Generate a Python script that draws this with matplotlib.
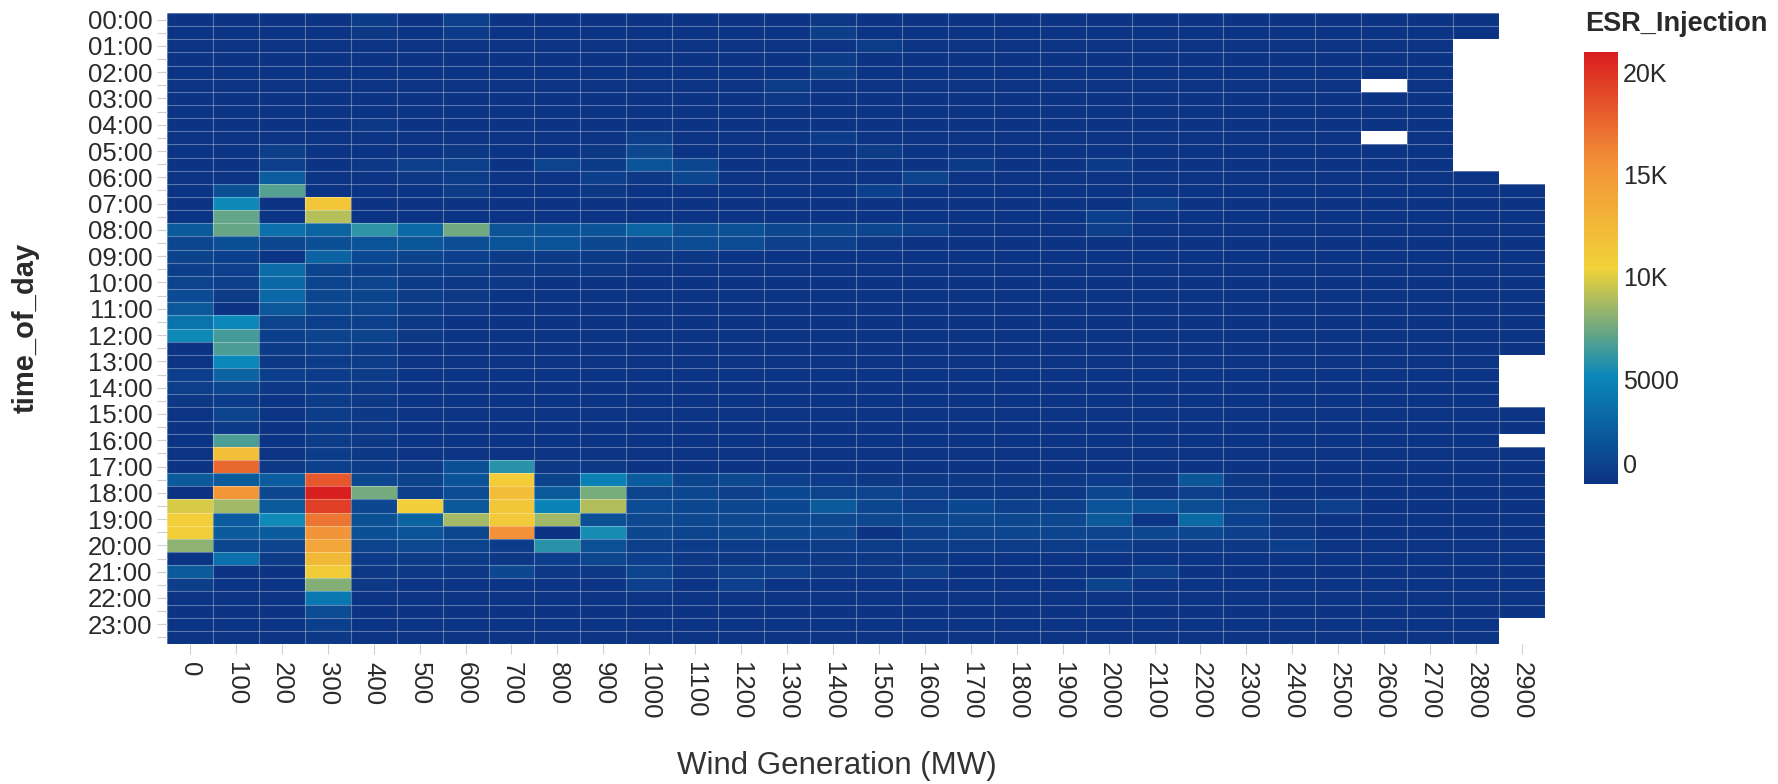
import numpy as np
import matplotlib
matplotlib.use("Agg")
import matplotlib.pyplot as plt
from matplotlib import transforms
from matplotlib.colors import LinearSegmentedColormap, Normalize

plt.rcParams["font.family"] = ["Liberation Sans", "DejaVu Sans"]

nan = np.nan

wind_mw = list(range(0, 3000, 100))
time_of_day = [f"{h:02d}:{m:02d}" for h in range(24) for m in (0, 30)]

# mean ESR injection per half-hour (rows) and wind bin (columns), in thousands
# nan = no samples in that bin
esr_k = [
    [0.1, 0.1, 0.15, 0.15, 0.5, 0.15, 0.8, 0.15, 0.15, 0.15, 0.15, 0.15, 0.15, 0.15, 0.4, 0.15, 0.15, 0.15, 0.15, 0.15, 0.15, 0.15, 0.15, 0.15, 0.15, 0.15, 0.15, 0.15, 0.15, nan],
    [0.1, 0.1, 0.1, 0.15, 0.4, 0.15, 0.6, 0.15, 0.15, 0.15, 0.15, 0.15, 0.15, 0.15, 0.7, 0.15, 0.15, 0.15, 0.15, 0.15, 0.15, 0.15, 0.15, 0.15, 0.15, 0.15, 0.15, 0.15, 0.15, nan],
    [0.1, 0.1, 0.1, 0.15, 0.15, 0.15, 0.15, 0.15, 0.15, 0.15, 0.15, 0.15, 0.15, 0.15, 0.15, 0.5, 0.15, 0.15, 0.15, 0.15, 0.15, 0.15, 0.15, 0.15, 0.15, 0.15, 0.15, 0.15, nan, nan],
    [0.1, 0.1, 0.1, 0.15, 0.15, 0.15, 0.15, 0.15, 0.15, 0.15, 0.15, 0.15, 0.15, 0.15, 0.5, 0.15, 0.15, 0.15, 0.15, 0.15, 0.15, 0.15, 0.15, 0.15, 0.15, 0.15, 0.15, 0.15, nan, nan],
    [0.1, 0.1, 0.1, 0.15, 0.15, 0.15, 0.15, 0.15, 0.15, 0.15, 0.15, 0.15, 0.15, 0.15, 0.7, 0.15, 0.15, 0.15, 0.15, 0.15, 0.15, 0.15, 0.15, 0.15, 0.15, 0.15, 0.15, 0.15, nan, nan],
    [0.1, 0.1, 0.1, 0.15, 0.15, 0.15, 0.15, 0.15, 0.15, 0.15, 0.15, 0.15, 0.15, 0.5, 0.15, 0.15, 0.15, 0.15, 0.15, 0.15, 0.15, 0.15, 0.15, 0.15, 0.15, 0.15, nan, 0.15, nan, nan],
    [0.1, 0.1, 0.1, 0.15, 0.15, 0.15, 0.15, 0.15, 0.15, 0.15, 0.15, 0.15, 0.15, 0.4, 0.15, 0.15, 0.15, 0.15, 0.15, 0.15, 0.15, 0.15, 0.15, 0.15, 0.15, 0.15, 0.15, 0.15, nan, nan],
    [0.1, 0.1, 0.1, 0.15, 0.15, 0.15, 0.15, 0.15, 0.15, 0.15, 0.15, 0.15, 0.15, 0.15, 0.15, 0.15, 0.15, 0.15, 0.15, 0.15, 0.15, 0.15, 0.15, 0.15, 0.15, 0.15, 0.15, 0.15, nan, nan],
    [0.1, 0.1, 0.1, 0.15, 0.4, 0.15, 0.15, 0.15, 0.15, 0.15, 0.15, 0.15, 0.15, 0.15, 0.15, 0.15, 0.15, 0.15, 0.15, 0.15, 0.15, 0.15, 0.15, 0.15, 0.15, 0.15, 0.15, 0.15, nan, nan],
    [0.1, 0.1, 0.15, 0.15, 0.15, 0.15, 0.15, 0.15, 0.15, 0.15, 0.7, 0.15, 0.15, 0.15, 0.6, 0.15, 0.15, 0.15, 0.15, 0.15, 0.15, 0.15, 0.15, 0.15, 0.15, 0.15, nan, 0.15, nan, nan],
    [0.1, 0.1, 0.7, 0.15, 0.15, 0.15, 0.4, 0.15, 0.15, 0.4, 1.3, 0.15, 0.15, 0.15, 0.15, 0.5, 0.15, 0.15, 0.15, 0.15, 0.15, 0.15, 0.15, 0.15, 0.15, 0.15, 0.15, 0.15, nan, nan],
    [0.1, 0.1, 0.9, 0.15, 0.4, 0.9, 0.8, 0.15, 1.0, 0.5, 2.0, 1.2, 0.15, 0.15, 0.15, 0.15, 0.15, 0.5, 0.15, 0.15, 0.6, 0.15, 0.15, 0.15, 0.15, 0.15, 0.15, 0.15, nan, nan],
    [0.1, 0.1, 2.6, 0.15, 0.15, 0.4, 0.5, 0.15, 0.15, 0.8, 0.4, 1.2, 0.15, 0.15, 0.15, 0.15, 1.0, 0.15, 0.15, 0.15, 0.15, 0.15, 0.15, 0.15, 0.15, 0.15, 0.15, 0.15, 0.15, nan],
    [0.1, 1.8, 7.0, 0.15, 0.15, 0.15, 0.5, 0.15, 0.15, 0.4, 0.15, 0.15, 0.15, 0.15, 0.15, 0.9, 0.15, 0.15, 0.15, 0.15, 0.15, 0.15, 0.15, 0.15, 0.15, 0.15, 0.15, 0.15, 0.15, 0.15],
    [0.1, 5.4, 0.1, 11.6, 0.15, 0.15, 0.15, 0.15, 0.15, 0.15, 0.15, 0.15, 0.15, 0.15, 0.15, 0.15, 0.15, 0.15, 0.15, 0.15, 0.15, 0.8, 0.15, 0.15, 0.15, 0.15, 0.15, 0.15, 0.15, 0.15],
    [0.1, 7.3, 0.1, 9.2, 0.15, 0.15, 0.15, 0.15, 0.15, 0.15, 0.15, 0.15, 0.15, 0.15, 0.15, 0.15, 0.15, 0.15, 0.15, 0.15, 0.9, 0.15, 0.15, 0.15, 0.15, 0.15, 0.15, 0.15, 0.15, 0.15],
    [2.4, 7.4, 3.8, 3.0, 6.1, 3.3, 7.6, 1.9, 2.0, 2.0, 3.0, 1.8, 1.8, 1.2, 1.2, 1.2, 0.9, 0.15, 0.15, 0.15, 0.7, 0.15, 0.15, 0.15, 0.15, 0.15, 0.15, 0.15, 0.15, 0.15],
    [1.2, 1.8, 1.2, 1.8, 2.0, 2.2, 1.7, 2.0, 2.0, 1.3, 1.3, 1.5, 1.5, 0.9, 0.9, 0.4, 0.15, 0.15, 0.15, 0.15, 0.15, 0.15, 0.15, 0.15, 0.15, 0.15, 0.15, 0.15, 0.15, 0.15],
    [1.0, 0.9, 0.1, 3.0, 1.4, 1.0, 0.8, 0.5, 0.5, 0.5, 0.4, 0.4, 0.15, 0.15, 0.15, 0.15, 0.15, 0.15, 0.15, 0.15, 0.15, 0.15, 0.15, 0.15, 0.15, 0.15, 0.15, 0.15, 0.15, 0.15],
    [0.8, 0.9, 3.5, 1.0, 0.8, 0.5, 0.5, 0.4, 0.4, 0.4, 0.15, 0.15, 0.15, 0.15, 0.15, 0.15, 0.15, 0.15, 0.15, 0.15, 0.15, 0.15, 0.15, 0.15, 0.15, 0.15, 0.15, 0.15, 0.15, 0.15],
    [1.0, 0.7, 3.3, 1.0, 1.1, 0.5, 0.4, 0.4, 0.15, 0.15, 0.15, 0.15, 0.15, 0.15, 0.15, 0.15, 0.15, 0.15, 0.15, 0.15, 0.15, 0.15, 0.15, 0.15, 0.15, 0.15, 0.15, 0.15, 0.15, 0.15],
    [1.5, 0.5, 3.3, 1.2, 1.0, 0.5, 0.4, 0.15, 0.15, 0.15, 0.15, 0.15, 0.15, 0.15, 0.15, 0.15, 0.15, 0.15, 0.15, 0.15, 0.15, 0.15, 0.15, 0.15, 0.15, 0.15, 0.15, 0.15, 0.15, 0.15],
    [2.3, 0.1, 2.3, 1.2, 1.0, 0.5, 0.4, 0.15, 0.15, 0.15, 0.15, 0.15, 0.15, 0.15, 0.15, 0.15, 0.15, 0.15, 0.15, 0.15, 0.15, 0.15, 0.15, 0.15, 0.15, 0.15, 0.15, 0.15, 0.15, 0.15],
    [4.0, 5.3, 1.0, 0.8, 0.8, 0.4, 0.15, 0.15, 0.15, 0.15, 0.15, 0.15, 0.15, 0.15, 0.15, 0.15, 0.15, 0.15, 0.15, 0.15, 0.15, 0.15, 0.15, 0.15, 0.15, 0.15, 0.15, 0.15, 0.15, 0.15],
    [5.4, 6.6, 0.8, 1.0, 1.0, 0.4, 0.15, 0.15, 0.15, 0.15, 0.15, 0.15, 0.15, 0.15, 0.15, 0.15, 0.15, 0.15, 0.15, 0.15, 0.15, 0.15, 0.15, 0.15, 0.15, 0.15, 0.15, 0.15, 0.15, 0.15],
    [0.1, 6.8, 0.5, 0.9, 0.6, 0.15, 0.15, 0.15, 0.15, 0.15, 0.15, 0.15, 0.15, 0.15, 0.15, 0.15, 0.15, 0.15, 0.15, 0.15, 0.15, 0.15, 0.15, 0.15, 0.15, 0.15, 0.15, 0.15, 0.15, 0.15],
    [0.15, 5.3, 0.4, 0.6, 0.5, 0.15, 0.15, 0.15, 0.15, 0.15, 0.15, 0.15, 0.15, 0.15, 0.15, 0.15, 0.15, 0.15, 0.15, 0.15, 0.15, 0.15, 0.15, 0.15, 0.15, 0.15, 0.15, 0.15, 0.15, nan],
    [0.8, 3.0, 0.8, 0.6, 0.5, 0.15, 0.15, 0.15, 0.15, 0.15, 0.15, 0.15, 0.15, 0.15, 0.15, 0.15, 0.15, 0.15, 0.15, 0.15, 0.15, 0.15, 0.15, 0.15, 0.15, 0.15, 0.15, 0.15, 0.15, nan],
    [0.7, 1.2, 0.4, 0.6, 0.4, 0.15, 0.15, 0.15, 0.15, 0.15, 0.15, 0.15, 0.15, 0.15, 0.15, 0.15, 0.15, 0.15, 0.15, 0.15, 0.15, 0.15, 0.15, 0.15, 0.15, 0.15, 0.15, 0.15, 0.15, nan],
    [0.4, 0.6, 0.15, 0.5, 0.4, 0.15, 0.15, 0.15, 0.15, 0.15, 0.15, 0.15, 0.15, 0.15, 0.15, 0.15, 0.15, 0.15, 0.15, 0.15, 0.15, 0.15, 0.15, 0.15, 0.15, 0.15, 0.15, 0.15, 0.15, nan],
    [0.15, 1.1, 0.15, 0.5, 0.4, 0.15, 0.15, 0.15, 0.15, 0.15, 0.15, 0.15, 0.15, 0.15, 0.15, 0.15, 0.15, 0.15, 0.15, 0.15, 0.15, 0.15, 0.15, 0.15, 0.15, 0.15, 0.15, 0.15, 0.15, 0.15],
    [0.15, 0.6, 0.15, 0.5, 0.4, 0.15, 0.15, 0.15, 0.15, 0.15, 0.15, 0.15, 0.15, 0.15, 0.15, 0.15, 0.15, 0.15, 0.15, 0.15, 0.15, 0.15, 0.15, 0.15, 0.15, 0.15, 0.15, 0.15, 0.15, 0.15],
    [0.15, 6.8, 0.15, 0.5, 0.4, 0.15, 0.15, 0.15, 0.15, 0.15, 0.15, 0.15, 0.15, 0.15, 0.15, 0.15, 0.15, 0.15, 0.15, 0.15, 0.15, 0.15, 0.15, 0.15, 0.15, 0.15, 0.15, 0.15, 0.15, nan],
    [0.15, 12.0, 0.15, 0.6, 0.4, 0.15, 0.15, 0.15, 0.15, 0.15, 0.15, 0.15, 0.15, 0.15, 0.15, 0.15, 0.15, 0.15, 0.15, 0.15, 0.15, 0.15, 0.15, 0.15, 0.15, 0.15, 0.15, 0.15, 0.15, 0.15],
    [0.15, 17.6, 0.4, 0.9, 0.5, 0.5, 1.8, 6.0, 0.4, 0.4, 0.15, 0.15, 0.15, 0.15, 0.15, 0.15, 0.15, 0.15, 0.15, 0.15, 0.15, 0.15, 0.15, 0.15, 0.15, 0.15, 0.15, 0.15, 0.15, 0.15],
    [2.4, 2.4, 2.6, 18.3, 1.3, 1.0, 2.0, 11.0, 1.0, 4.8, 2.6, 1.0, 1.3, 0.9, 0.6, 0.4, 0.4, 0.4, 0.4, 0.4, 0.6, 0.4, 2.2, 0.4, 0.15, 0.15, 0.15, 0.15, 0.15, 0.15],
    [0.05, 15.3, 1.3, 21.1, 7.7, 0.7, 1.5, 12.2, 2.4, 7.8, 1.0, 1.2, 0.7, 1.4, 1.0, 1.1, 0.7, 0.4, 0.4, 0.4, 1.3, 0.4, 0.8, 0.4, 0.15, 0.15, 0.15, 0.15, 0.15, 0.15],
    [9.9, 8.7, 2.4, 19.6, 1.3, 10.8, 2.3, 11.6, 5.1, 9.1, 1.5, 1.2, 1.2, 1.4, 2.4, 1.2, 0.8, 1.4, 0.9, 0.9, 2.0, 2.0, 1.7, 1.0, 0.4, 0.8, 0.15, 0.15, 0.15, 0.15],
    [10.9, 2.6, 5.4, 17.0, 1.8, 3.0, 8.8, 11.3, 8.7, 1.8, 1.3, 1.3, 1.3, 1.3, 1.3, 1.3, 1.3, 1.3, 1.3, 1.3, 2.4, 0.1, 3.4, 0.9, 0.4, 0.15, 0.15, 0.15, 0.15, 0.15],
    [10.9, 2.5, 2.6, 15.4, 1.8, 2.0, 1.2, 15.6, 0.15, 5.6, 1.3, 1.0, 1.3, 1.3, 1.3, 0.15, 0.9, 1.0, 1.2, 1.1, 1.0, 1.3, 1.3, 0.9, 0.4, 0.15, 0.15, 0.15, 0.15, 0.15],
    [8.3, 1.2, 1.0, 14.1, 1.0, 1.3, 1.0, 0.6, 6.0, 1.8, 0.7, 0.6, 0.6, 0.6, 0.5, 0.5, 0.5, 0.5, 0.5, 0.5, 0.8, 0.4, 0.4, 0.4, 0.8, 0.15, 0.15, 0.15, 0.15, 0.15],
    [0.1, 3.8, 0.5, 12.6, 0.6, 0.5, 0.5, 0.4, 0.8, 1.2, 0.9, 0.4, 0.4, 0.4, 0.4, 0.4, 0.4, 0.15, 0.15, 0.15, 0.15, 0.15, 0.15, 0.15, 0.15, 0.15, 0.15, 0.15, 0.15, 0.15],
    [2.4, 0.1, 0.15, 11.2, 0.4, 0.4, 0.4, 1.3, 0.4, 0.4, 1.0, 0.4, 0.7, 0.8, 0.4, 0.4, 0.7, 0.15, 0.15, 0.15, 0.15, 0.7, 0.15, 0.15, 0.15, 0.15, 0.15, 0.15, 0.15, 0.15],
    [0.7, 0.15, 0.15, 8.0, 0.4, 0.15, 0.15, 0.15, 0.15, 0.15, 0.9, 0.15, 0.9, 0.15, 0.15, 0.15, 0.15, 0.15, 0.15, 0.15, 1.0, 0.15, 0.15, 0.15, 0.15, 0.15, 0.15, 0.15, 0.15, 0.15],
    [0.15, 0.1, 0.15, 4.3, 0.15, 0.15, 0.15, 0.15, 0.15, 0.15, 0.15, 0.15, 0.15, 0.15, 0.15, 0.15, 0.15, 0.15, 0.15, 0.15, 0.15, 0.15, 0.15, 0.15, 0.15, 0.15, 0.15, 0.15, 0.15, 0.15],
    [0.15, 0.1, 0.15, 1.5, 0.15, 0.15, 0.15, 0.15, 0.15, 0.15, 0.15, 0.15, 0.15, 0.15, 0.15, 0.15, 0.15, 0.15, 0.15, 0.15, 0.15, 0.15, 0.15, 0.15, 0.15, 0.15, 0.15, 0.15, 0.15, 0.15],
    [0.15, 0.1, 0.15, 0.8, 0.15, 0.15, 0.15, 0.15, 0.15, 0.15, 0.15, 0.15, 0.15, 0.15, 0.15, 0.15, 0.15, 0.15, 0.15, 0.15, 0.15, 0.15, 0.15, 0.15, 0.15, 0.15, 0.15, 0.15, 0.15, nan],
    [0.1, 0.1, 0.15, 0.4, 0.15, 0.15, 0.15, 0.15, 0.15, 0.15, 0.15, 0.15, 0.15, 0.15, 0.15, 0.15, 0.15, 0.15, 0.15, 0.15, 0.15, 0.15, 0.15, 0.15, 0.15, 0.15, 0.15, 0.15, 0.15, nan],
]

cbar_ticks = [0, 5000, 10000, 15000, 20000]
cbar_labels = ["0", "5000", "10K", "15K", "20K"]

esr = np.ma.masked_invalid(np.array(esr_k, dtype=float) * 1000)

portland = LinearSegmentedColormap.from_list(
    "portland", ["#0c3383", "#0a88ba", "#f2d338", "#f28f38", "#d91e1e"])
portland.set_bad("white")

W, H = 1778, 784
fig = plt.figure(figsize=(W / 100, H / 100), dpi=100)
ax = fig.add_axes([167 / W, 1 - 644 / H, (1545 - 167) / W, (644 - 13) / H])

x_edges = np.arange(len(wind_mw) + 1) - 0.5
y_edges = np.arange(len(time_of_day) + 1) - 0.5
norm = Normalize(vmin=0, vmax=esr.max())
mesh = ax.pcolormesh(x_edges, y_edges, esr, cmap=portland, norm=norm)
ax.set_xlim(x_edges[0], x_edges[-1])
ax.set_ylim(y_edges[-1], y_edges[0])

# thin light separators between cells
ax.set_xticks(x_edges, minor=True)
ax.set_yticks(y_edges, minor=True)
ax.grid(which="minor", color="white", alpha=0.32, linewidth=0.8)
ax.set_axisbelow(False)
ax.tick_params(which="minor", length=0)

ax.set_xticks(range(len(wind_mw)))
ax.set_xticklabels([str(w) for w in wind_mw], rotation=270)
ax.set_yticks(range(len(time_of_day)))
ax.set_yticklabels([t if t.endswith(":00") else "" for t in time_of_day])
ax.tick_params(which="major", length=7.2, width=0.8, color="#cfcfcf",
               labelsize=18.5, labelcolor="#2a2a2a")
ax.tick_params(axis="y", which="major", pad=3.4)
ax.tick_params(axis="x", which="major", pad=5.5)
for s in ax.spines.values():
    s.set_visible(False)

fig.text(26 / W, 1 - 328 / H, "time_of_day", rotation=90, ha="center", va="center",
         fontsize=21, fontweight="bold", color="#2a2a2a")
fig.text(837 / W, 1 - 766 / H, "Wind Generation (MW)", ha="center", va="center",
         fontsize=22.5, color="#333333")

# colour scale
cax = fig.add_axes([1584 / W, 1 - 484 / H, 34 / W, 432 / H])
cb = fig.colorbar(mesh, cax=cax)
cb.outline.set_visible(False)
cb.set_ticks([])
for v, lab in zip(cbar_ticks, cbar_labels):
    dy = 18 if v == 0 else 0
    tr = transforms.offset_copy(cax.get_yaxis_transform(), fig=fig, x=5, y=dy, units="dots")
    cax.text(1.0, v, lab, transform=tr, ha="left", va="center",
             fontsize=18, color="#2a2a2a")
fig.text(1585 / W, 1 - 24 / H, "ESR_Injection", ha="left", va="center",
         fontsize=19.5, fontweight="bold", color="#2a2a2a")

fig.savefig("out.png", dpi=100)
